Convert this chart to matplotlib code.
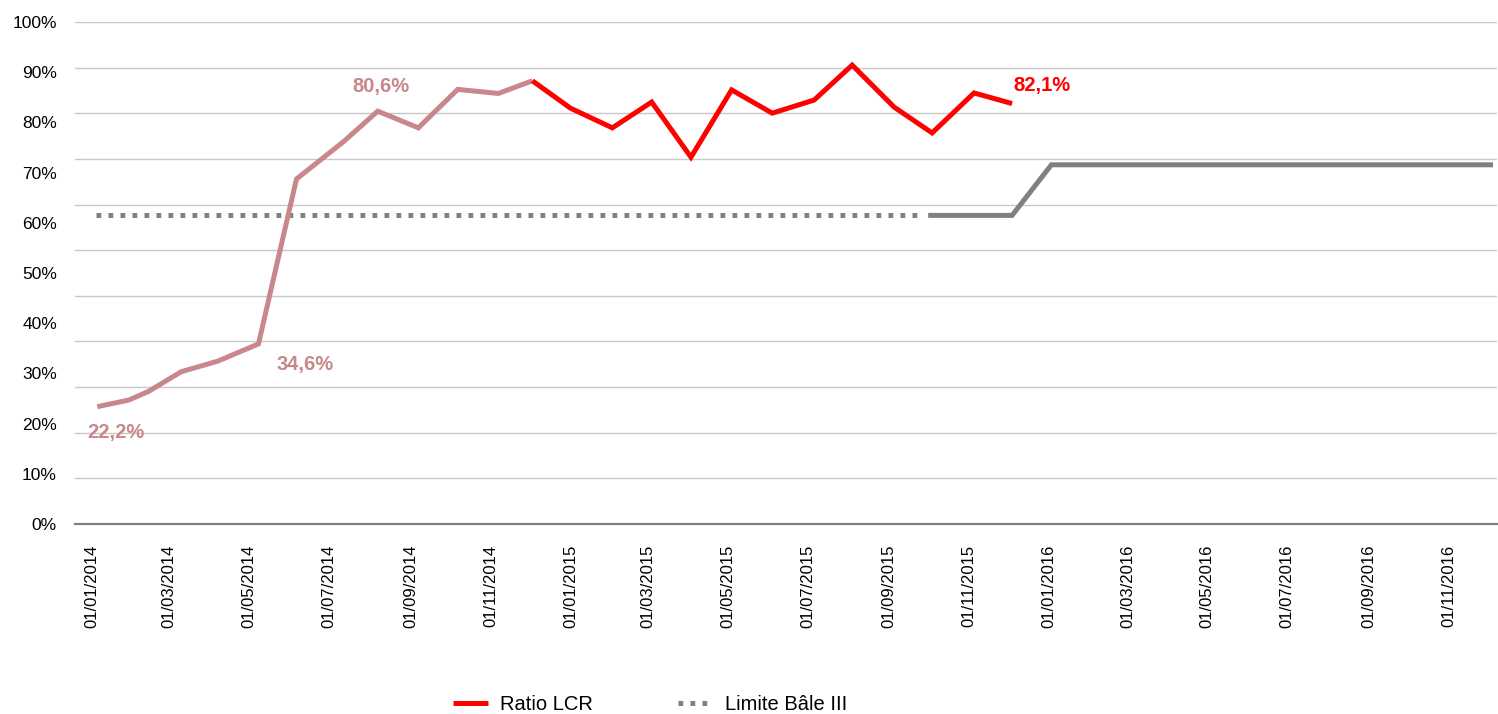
import matplotlib
matplotlib.use("Agg")
import matplotlib.pyplot as plt
import matplotlib.dates as mdates
import numpy as np
import pandas as pd

plt.rcParams["font.family"] = ["Liberation Sans", "DejaVu Sans"]

# Ratio LCR 2014 (historique, en rose)
dates_hist = pd.to_datetime([
    "05/01/2014", "29/01/2014", "13/02/2014", "10/03/2014", "07/04/2014",
    "08/05/2014", "06/06/2014", "12/07/2014", "07/08/2014", "07/09/2014",
    "07/10/2014", "07/11/2014", "03/12/2014",
], dayfirst=True)
lcr_hist = [0.222, 0.235, 0.252, 0.291, 0.312, 0.346, 0.672, 0.746, 0.806,
            0.773, 0.849, 0.841, 0.866]

# Ratio LCR 2015 (en rouge)
dates_lcr = pd.to_datetime([
    "03/12/2014", "01/01/2015", "02/02/2015", "04/03/2015", "03/04/2015",
    "04/05/2015", "04/06/2015", "06/07/2015", "04/08/2015", "05/09/2015",
    "04/10/2015", "05/11/2015", "04/12/2015",
], dayfirst=True)
lcr = [0.866, 0.812, 0.773, 0.824, 0.715, 0.848, 0.802, 0.828, 0.897,
       0.814, 0.763, 0.842, 0.821]

# Limite Bale III : pointillés puis calendrier de mise en place
dates_lim_old = pd.to_datetime(["04/01/2014", "26/09/2015"], dayfirst=True)
lim_old = [0.60, 0.60]
dates_lim = pd.to_datetime(["01/10/2015", "04/12/2015", "03/01/2016", "05/12/2016"], dayfirst=True)
lim = [0.60, 0.60, 0.70, 0.70]

y_labels = ["0%", "10%", "20%", "30%", "40%", "50%", "60%", "70%", "80%", "90%", "100%"]

rose = "#C8878A"
rouge = "#FF0000"
gris = "#808080"

fig = plt.figure(figsize=(14.98, 7.14), dpi=100)
ax = fig.add_axes([75 / 1498, 190 / 714, 1422 / 1498, 502 / 714])

y0, y1 = -0.0099, 0.9822
ax.set_ylim(y0, y1)
ax.set_xlim(pd.Timestamp("2013-12-19"), pd.Timestamp("2016-12-08"))

# quadrillage
for g in np.linspace(y0, y1, 12)[1:]:
    ax.axhline(g, color="#C8C8C8", lw=1.0, zorder=0)

ax.plot(dates_lim_old, lim_old, color=gris, lw=3.6, linestyle=(0, (0.95, 1.45)),
        dash_capstyle="butt", label="Limite Bâle III", zorder=2)
ax.plot(dates_lim, lim, color=gris, lw=3.6, solid_capstyle="butt",
        solid_joinstyle="miter", label="_nolegend_", zorder=2)
ax.plot(dates_hist, lcr_hist, color=rose, lw=3.6, solid_capstyle="butt",
        solid_joinstyle="miter", label="_nolegend_", zorder=3)
ax.plot(dates_lcr, lcr, color=rouge, lw=3.6, solid_capstyle="butt",
        solid_joinstyle="miter", label="Ratio LCR", zorder=4)


def pct(v):
    return f"{v * 100:.1f}%".replace(".", ",")


ax.annotate(pct(lcr_hist[0]), xy=(dates_hist[0], lcr_hist[0]), xytext=(13.7, -18.7),
            textcoords="offset points", ha="center", va="center",
            color=rose, fontsize=14.5, fontweight="bold")
ax.annotate(pct(lcr_hist[5]), xy=(dates_hist[5], lcr_hist[5]), xytext=(33.8, -14.6),
            textcoords="offset points", ha="center", va="center",
            color=rose, fontsize=14.5, fontweight="bold")
ax.annotate(pct(lcr_hist[8]), xy=(dates_hist[8], lcr_hist[8]), xytext=(2.2, 18),
            textcoords="offset points", ha="center", va="center",
            color=rose, fontsize=14.5, fontweight="bold")
ax.annotate(pct(lcr[-1]), xy=(dates_lcr[-1], lcr[-1]), xytext=(21.6, 13.3),
            textcoords="offset points", ha="center", va="center",
            color=rouge, fontsize=14.5, fontweight="bold")

ax.set_yticks(np.linspace(y0, y1, 11))
ax.set_yticklabels(y_labels)

ax.xaxis.set_major_locator(mdates.MonthLocator(bymonth=[1, 3, 5, 7, 9, 11]))
ax.xaxis.set_major_formatter(mdates.DateFormatter("%d/%m/%Y"))
plt.setp(ax.get_xticklabels(), rotation=90)

ax.tick_params(axis="y", length=0, pad=13, labelsize=12.5, colors="#000000")
ax.tick_params(axis="x", length=0, pad=15, labelsize=12, colors="#000000")

for s in ["top", "right", "left"]:
    ax.spines[s].set_visible(False)
ax.spines["bottom"].set_color(gris)
ax.spines["bottom"].set_linewidth(1.6)

handles, labels = ax.get_legend_handles_labels()
order = [labels.index("Ratio LCR"), labels.index("Limite Bâle III")]
fig.legend([handles[i] for i in order], [labels[i] for i in order],
           loc="center", bbox_to_anchor=(650 / 1498, 9 / 714), ncol=2,
           frameon=False, fontsize=14.5, handlelength=1.74, handletextpad=0.6,
           columnspacing=4.2, borderpad=0)

fig.savefig("out.png", dpi=100)
